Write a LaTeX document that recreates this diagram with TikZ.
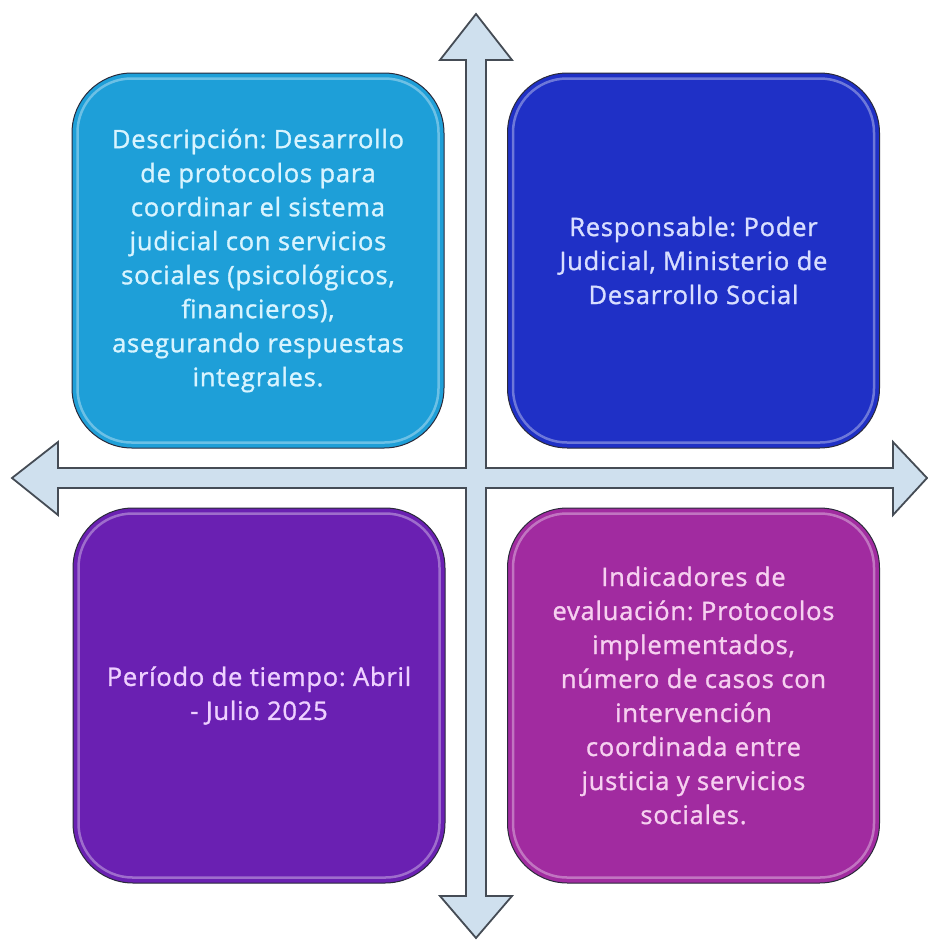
\documentclass[tikz,border=0pt]{standalone}
\usepackage{fontspec}
\setmainfont{Open Sans}[FakeBold=1.2, LetterSpace=3]
\definecolor{cTL}{HTML}{1E9FD8}
\definecolor{cTR}{HTML}{1F30C6}
\definecolor{cBL}{HTML}{6A20B2}
\definecolor{cBR}{HTML}{A12BA0}
\definecolor{tTL}{HTML}{D8F4FF}
\definecolor{tTR}{HTML}{D8DEFF}
\definecolor{tBL}{HTML}{EED0FF}
\definecolor{tBR}{HTML}{F6D0F0}
\definecolor{arrowfill}{HTML}{CFE0EE}
\definecolor{arrowline}{HTML}{454C55}
\definecolor{boxline}{HTML}{2A2A3A}
\tikzset{
  quad/.style={draw=boxline, line width=1pt, rounded corners=60pt,
    minimum width=372pt, minimum height=375pt, align=center,
    font=\fontsize{25.5}{34}\selectfont\frenchspacing, inner sep=0pt},
  glow/.style={draw=white, draw opacity=0.35, line width=2.5pt, rounded corners=54pt}
}
\begin{document}
\begin{tikzpicture}[x=1pt,y=-1pt]
\useasboundingbox (0,0) rectangle (928,940);
\fill[white] (0,0) rectangle (928,940);
% four-way arrow
\draw[fill=arrowfill, draw=arrowline, line width=1.8pt, line join=miter]
  (476,14) -- (512,60) -- (486,60) -- (486,468) -- (893,468) -- (893,442)
  -- (927,478) -- (893,515) -- (893,488) -- (486,488) -- (486,896)
  -- (512,896) -- (476,938) -- (440,896) -- (466,896) -- (466,488)
  -- (58,488) -- (58,515) -- (12,478) -- (58,442) -- (58,468)
  -- (466,468) -- (466,60) -- (440,60) -- cycle;
% boxes
\node[quad, fill=cTL, text=tTL] (tl) at (258,260.5)
  {Descripción: Desarrollo\\de protocolos para\\coordinar el sistema\\judicial con servicios\\sociales (psicológicos,\\financieros),\\asegurando respuestas\\integrales.};
\node[quad, fill=cTR, text=tTR] (tr) at (693.5,260.5)
  {Responsable: Poder\\Judicial, Ministerio de\\Desarrollo Social};
\node[quad, fill=cBL, text=tBL] (bl) at (259,695.5)
  {Período de tiempo: Abril\\- Julio 2025};
\node[quad, fill=cBR, text=tBR] (br) at (693.5,695.5)
  {Indicadores de\\evaluación: Protocolos\\implementados,\\número de casos con\\intervención\\coordinada entre\\justicia y servicios\\sociales.};
% glossy inner rims
\foreach \n in {tl,tr,bl,br}{
  \draw[glow] ([shift={(6pt,-6pt)}]\n.north west) rectangle ([shift={(-6pt,6pt)}]\n.south east);
}
\end{tikzpicture}
\end{document}
